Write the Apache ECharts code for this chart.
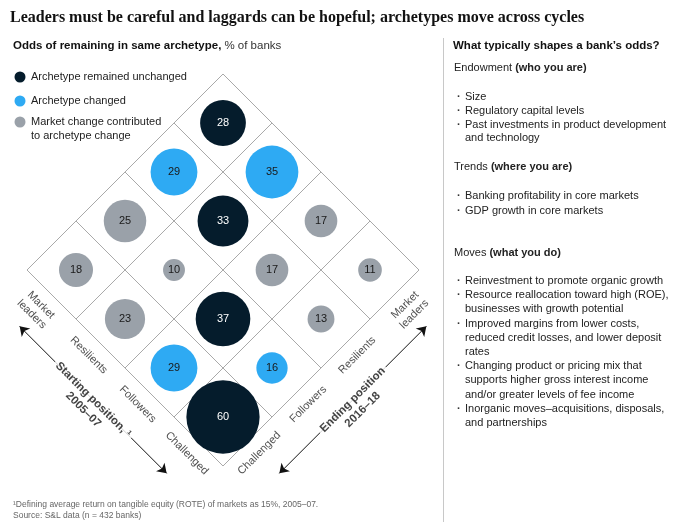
<!DOCTYPE html>
<html><head><meta charset="utf-8">
<script src="https://cdn.jsdelivr.net/npm/echarts/dist/echarts.min.js"></script>
<style>html,body{margin:0;padding:0;background:#fff}#c{width:692px;height:528px}</style>
</head><body><div id="c"></div>
<script>
// ---------- data ----------
const chartTitle = 'Leaders must be careful and laggards can be hopeful; archetypes move across cycles';
const archetypes = ['Market leaders', 'Resilients', 'Followers', 'Challenged'];
const archetypeLabels = ['Market\nleaders', 'Resilients', 'Followers', 'Challenged'];
// odds[start][end], % of banks remaining / moving
const odds = [
  [28, 29, 25, 18],
  [35, 33, 10, 23],
  [17, 17, 37, 29],
  [11, 13, 16, 60]
];
// U = archetype remained unchanged, C = archetype changed, M = market change contributed
const kinds = [
  ['U', 'C', 'M', 'M'],
  ['C', 'U', 'M', 'M'],
  ['M', 'M', 'U', 'C'],
  ['M', 'M', 'C', 'U']
];
const kindOrder = ['U', 'C', 'M'];
const legendNames = {
  U: 'Archetype remained unchanged',
  C: 'Archetype changed',
  M: 'Market change contributed\nto archetype change'
};
const startAxisTitle = 'Starting position, ¹\n2005–07';
const endAxisTitle = 'Ending position\n2016–18';
const subtitleBold = 'Odds of remaining in same archetype,';
const subtitleRegular = '% of banks';
const panelTitle = 'What typically shapes a bank\u2019s odds?';
const sections = [
  { head: 'Endowment ', headBold: '(who you are)', items: ['Size', 'Regulatory capital levels', 'Past investments in product development\nand technology'] },
  { head: 'Trends ', headBold: '(where you are)', items: ['Banking profitability in core markets', 'GDP growth in core markets'] },
  { head: 'Moves ', headBold: '(what you do)', items: ['Reinvestment to promote organic growth', 'Resource reallocation toward high (ROE),\nbusinesses with growth potential', 'Improved margins from lower costs,\nreduced credit losses, and lower deposit\nrates', 'Changing product or pricing mix that\nsupports higher gross interest income\nand/or greater levels of fee income', 'Inorganic moves\u2013acquisitions, disposals,\nand partnerships'] }
];
const footnotes = ['\u00b9Defining average return on tangible equity (ROTE) of markets as 15%, 2005\u201307.', 'Source: S&L data (n = 432 banks)'];

// ---------- styling ----------
const FONT = '"Liberation Sans", Arial, Helvetica, sans-serif';
const SERIF = '"Liberation Serif", "DejaVu Serif", serif';
const COLORS = { U: '#051c2c', C: '#2eaaf3', M: '#9aa1a9' };
const TEXT = '#1f1f1f';
const n = archetypes.length;
const toXY = (s, e) => [s - e, (n - 1) - s - e];

const chart = echarts.init(document.getElementById('c'), null, { renderer: 'canvas' });

function bubbleSeries(kind) {
  const data = [];
  for (let s = 0; s < n; s++) for (let e = 0; e < n; e++) {
    if (kinds[s][e] === kind) { const p = toXY(s, e); data.push([p[0], p[1], odds[s][e]]); }
  }
  return {
    type: 'scatter', name: legendNames[kind], data, z: 5, silent: true,
    symbolSize: v => 11.2 * Math.sqrt(v[2]) - 13.5,
    itemStyle: { color: COLORS[kind], opacity: 1 },
    label: { show: true, position: 'inside', formatter: p => String(p.value[2]),
      color: kind === 'U' ? '#ffffff' : '#1a1a1a', fontSize: 11, fontFamily: FONT },
    emphasis: { disabled: true }
  };
}

const gridLines = [];
for (let k = 0; k <= n; k++) {
  const b = k - 0.5;
  gridLines.push({ coords: [toXY(b, -0.5), toXY(b, n - 0.5)] });
  gridLines.push({ coords: [toXY(-0.5, b), toXY(n - 0.5, b)] });
}
const arrowOff = n - 0.5 + 0.65;
const arrows = [
  { coords: [toXY(0, arrowOff), toXY(n - 1, arrowOff)] },
  { coords: [toXY(arrowOff, 0), toXY(arrowOff, n - 1)] }
];

const catLabelData = [];
archetypeLabels.forEach((lab, i) => {
  const off = lab.indexOf('\n') >= 0 ? 0.31 : 0.24;
  catLabelData.push({ value: toXY(i, n - 0.5 + off), name: lab, label: { rotate: -45 } });
  catLabelData.push({ value: toXY(n - 0.5 + off, i), name: lab, label: { rotate: 45 } });
});
const axisTitleData = [
  { value: toXY((n - 1) / 2, arrowOff + 0.1), name: startAxisTitle, label: { rotate: -45 } },
  { value: toXY(arrowOff + 0.1, (n - 1) / 2), name: endAxisTitle, label: { rotate: 45 } }
];

// ---------- graphic (titles, legend, side panel) ----------
const graphics = [];
const txt = (x, y, text, opts) => graphics.push(Object.assign({ type: 'text', x, y, silent: true,
  style: Object.assign({ text, fill: TEXT, font: '11px ' + FONT, textVerticalAlign: 'middle', verticalAlign: 'middle' }, opts || {}) }));

txt(10, 18, chartTitle, { font: 'bold 16px ' + SERIF, fill: '#111' });
txt(13, 46, '{b|' + subtitleBold + '} {r|' + subtitleRegular + '}', {
  rich: { b: { fontWeight: 'bold', fontSize: 11.5, fontFamily: FONT, fill: '#111' },
          r: { fontSize: 11.5, fontFamily: FONT, fill: '#333' } } });
// legend
kindOrder.forEach((k, i) => {
  const y = [77, 101, 122][i];
  graphics.push({ type: 'circle', shape: { cx: 20, cy: y, r: 5.5 }, style: { fill: COLORS[k] }, silent: true });
  const lines = legendNames[k].split('\n');
  lines.forEach((l, j) => txt(31, y + j * 14, l, { fill: '#222' }));
});
// separator
graphics.push({ type: 'line', shape: { x1: 443.5, y1: 38, x2: 443.5, y2: 522 }, style: { stroke: '#c8c8c8', lineWidth: 1 }, silent: true });
// side panel
txt(453, 46, panelTitle, { font: 'bold 11.5px ' + FONT, fill: '#111' });
const headY = [68, 167, 253];
const firstItemY = [97, 196, 281];
const lineH = [13.8, 14.6, 14.2];
sections.forEach((sec, si) => {
  txt(454, headY[si], '{r|' + sec.head + '}{b|' + sec.headBold + '}', {
    rich: { r: { fontSize: 11, fontFamily: FONT, fill: '#222' }, b: { fontSize: 11, fontFamily: FONT, fontWeight: 'bold', fill: '#222' } } });
  let y = firstItemY[si];
  sec.items.forEach(item => {
    txt(457, y, '\u00b7', { font: 'bold 11px ' + FONT, fill: '#333' });
    item.split('\n').forEach(l => { txt(465, y, l, { fill: '#222' }); y += lineH[si]; });
  });
});
// footnotes
footnotes.forEach((f, i) => txt(13, 505 + i * 10.5, f, { font: '8.5px ' + FONT, fill: '#666' }));

const option = {
  backgroundColor: '#ffffff',
  animation: false,
  grid: { left: 2.5, top: 49.5, width: 441, height: 441, containLabel: false },
  xAxis: { type: 'value', min: -4.5, max: 4.5, show: false },
  yAxis: { type: 'value', min: -4.5, max: 4.5, show: false },
  graphic: graphics,
  series: [
    { type: 'lines', coordinateSystem: 'cartesian2d', data: gridLines, silent: true, z: 1,
      symbol: ['none', 'none'], lineStyle: { color: '#a9a9a9', width: 1, opacity: 1, curveness: 0 } },
    { type: 'lines', coordinateSystem: 'cartesian2d', data: arrows, silent: true, z: 2,
      symbol: ['arrow', 'arrow'], symbolSize: 9, lineStyle: { color: '#111', width: 1, opacity: 1 } },
    ...kindOrder.map(bubbleSeries),
    { type: 'scatter', data: catLabelData, symbolSize: 1, silent: true, z: 6,
      itemStyle: { color: 'rgba(0,0,0,0)' },
      label: { show: true, position: 'inside', formatter: p => p.name, color: '#222', fontSize: 11,
        fontFamily: FONT, align: 'center', verticalAlign: 'middle', lineHeight: 13 } },
    { type: 'scatter', data: axisTitleData, symbolSize: 1, silent: true, z: 8,
      itemStyle: { color: 'rgba(0,0,0,0)' },
      label: { show: true, position: 'inside', formatter: p => p.name, color: '#111', fontSize: 11.5,
        fontWeight: 'bold', fontFamily: FONT, align: 'center', verticalAlign: 'middle', lineHeight: 14,
        backgroundColor: '#ffffff', padding: [0, 3] } }
  ]
};
chart.setOption(option);
</script>
</body></html>
